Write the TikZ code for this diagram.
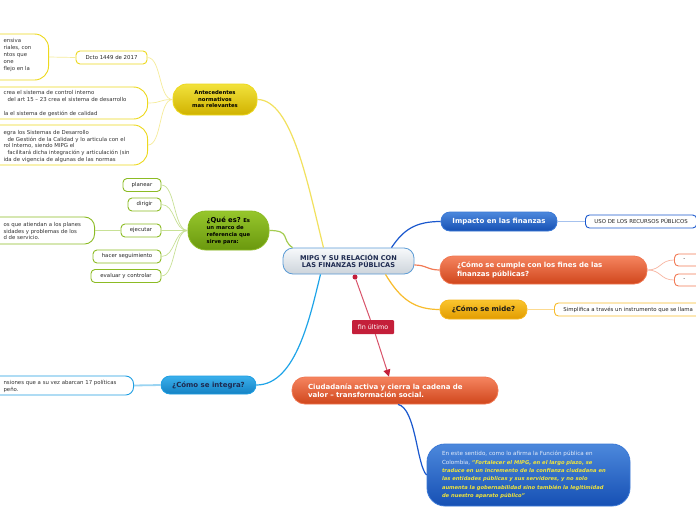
\documentclass[tikz,border=0pt]{standalone}
\usepackage{fontspec}
\setmainfont{DejaVu Sans}
\usepackage{xcolor}
\usetikzlibrary{positioning,arrows.meta}

\definecolor{centreTop}{HTML}{F7F9FB}
\definecolor{centreBot}{HTML}{CDD4DB}
\definecolor{centreEdge}{HTML}{5B9BD5}
\definecolor{centreText}{HTML}{1E2A50}
\definecolor{yelTop}{HTML}{F2E23C}
\definecolor{yelBot}{HTML}{D0B200}
\definecolor{yelEdge}{HTML}{EDD91E}
\definecolor{yelLine}{HTML}{F2E15E}
\definecolor{yelTwig}{HTML}{F6EC9A}
\definecolor{grnTop}{HTML}{96C62C}
\definecolor{grnBot}{HTML}{6A980E}
\definecolor{grnEdge}{HTML}{8CBB24}
\definecolor{grnLine}{HTML}{A4CC50}
\definecolor{grnTwig}{HTML}{C8E196}
\definecolor{skyTop}{HTML}{3AB0EC}
\definecolor{skyBot}{HTML}{1582C4}
\definecolor{skyEdge}{HTML}{1E9EE2}
\definecolor{skyLine}{HTML}{1EA4E8}
\definecolor{skyTwig}{HTML}{9AD4F2}
\definecolor{bluTop}{HTML}{4C88DC}
\definecolor{bluBot}{HTML}{1650B4}
\definecolor{bluEdge}{HTML}{3A78D6}
\definecolor{bluLine}{HTML}{1A58CE}
\definecolor{bluTwig}{HTML}{A6C2EE}
\definecolor{orgTop}{HTML}{F5845F}
\definecolor{orgBot}{HTML}{D0461C}
\definecolor{orgEdge}{HTML}{F07650}
\definecolor{orgLine}{HTML}{F27A55}
\definecolor{orgTwig}{HTML}{F8B6A2}
\definecolor{gldTop}{HTML}{FAC52E}
\definecolor{gldBot}{HTML}{E29C00}
\definecolor{gldEdge}{HTML}{F6B820}
\definecolor{gldLine}{HTML}{F8BC2C}
\definecolor{gldTwig}{HTML}{FCDA90}
\definecolor{finRed}{HTML}{C41F3A}
\definecolor{finLine}{HTML}{D9536A}
\definecolor{quoteYel}{HTML}{F2E53A}
\definecolor{paleText}{HTML}{E4ECFA}

\newcommand\mipgquote[1]{{\color{quoteYel}\fontsize{5.2}{8.3}\selectfont\bfseries\itshape #1}}

\tikzset{
  smalltxt/.style={font=\fontsize{5.4}{6.8}\selectfont},
  topic/.style={draw=#1, line width=0.8pt, inner sep=0pt, align=center,
    font=\fontsize{7}{8.2}\selectfont\bfseries},
  leafbox/.style={draw=#1, line width=0.9pt, fill=white, rounded corners=4pt,
    inner sep=0pt, minimum height=13pt, smalltxt, text=black!85},
  twig/.style={draw=#1, line width=0.7pt},
  branch/.style={draw=#1, line width=1.2pt},
}

\begin{document}
\begin{tikzpicture}[x=1pt,y=-1pt]
  \useasboundingbox[fill=white] (0,0) rectangle (696,520);

  % Central topic
  \node[topic=centreEdge, top color=centreTop, bottom color=centreBot,
    rounded corners=10pt, minimum width=131, minimum height=26, text=centreText,
    font=\fontsize{6.6}{7.8}\selectfont\bfseries] (mipg) at (348.5,261)
    {MIPG Y SU RELACIÓN CON\\LAS FINANZAS PÚBLICAS};

  % Antecedentes normativos
  \node[topic=yelEdge, top color=yelTop, bottom color=yelBot, rounded corners=14pt,
    minimum width=84, minimum height=31, text=black,
    font=\fontsize{5.3}{6.5}\selectfont\bfseries] (ante) at (215,99.5)
    {Antecedentes\\normativos\\mas relevantes};
  \draw[branch=yelLine] (ante.east) .. controls +(35,0) and +(-15,-60) .. ([xshift=-25pt]mipg.north);

  \node[leafbox=yelEdge] (dcto) at (111.5,57.5) [minimum width=71] {Dcto 1449 de 2017};
  \node[leafbox=yelEdge, anchor=east, minimum width=150, minimum height=46, rounded corners=14pt] (normA) at (49,57) {};
  \node[smalltxt, align=left, anchor=west, text=black!80] (normAtxt) at (0,55)
    {ensiva\\riales, con\\ntos que\\one\\flejo en la};
  \node[leafbox=yelEdge, anchor=east, minimum width=200, minimum height=32, rounded corners=14pt] (normB) at (148,103) {};
  \node[smalltxt, align=left, anchor=west, text=black!80] (normBtxt) at (0,103.5)
    {crea el sistema de control interno\\\hspace*{4pt}del art 15 – 23 crea el sistema de desarrollo\\[6.8pt]la el sistema de gestión de calidad};
  \node[leafbox=yelEdge, anchor=east, minimum width=200, minimum height=40, rounded corners=14pt] (normC) at (148,145) {};
  \node[smalltxt, align=left, anchor=west, text=black!80] (normCtxt) at (0,146.5)
    {egra los Sistemas de Desarrollo\\\hspace*{4pt}de Gestión de la Calidad y lo articula con el\\rol Interno, siendo MIPG el\\\hspace*{4pt}facilitará dicha integración y articulación (sin\\ida de vigencia de algunas de las normas};
  \foreach \leaf in {dcto,normB,normC}
    \draw[twig=yelTwig] (ante.west) .. controls +(-14,0) and +(14,0) .. (\leaf.east);
  \draw[twig=yelTwig] (dcto.west) -- (normA.east);

  % Que es
  \node[topic=grnEdge, top color=grnTop, bottom color=grnBot, rounded corners=18pt,
    minimum width=81, minimum height=39, align=left, text=black,
    font=\fontsize{5.3}{7}\selectfont\bfseries] (qe) at (228.5,230.5)
    {{\fontsize{6.8}{7}\selectfont ¿Qué es?} Es\\un marco de\\referencia que\\sirve para:};
  \draw[branch=grnLine] (qe.east) .. controls +(22,0) and +(-12,-8) .. ([xshift=10pt]mipg.north west);

  \foreach \name/\txt/\x/\y/\w in {plan/planear/142/185/38, dirig/dirigir/144.5/204.5/33,
      ejec/ejecutar/141/230.5/40, segui/hacer seguimiento/127/256.5/68,
      evalu/evaluar y controlar/126/276/70} {
    \node[leafbox=grnEdge, minimum width=\w] (\name) at (\x,\y) {\txt};
    \draw[twig=grnTwig] (qe.west) .. controls +(-14,0) and +(14,0) .. (\name.east);
  }
  \node[leafbox=grnEdge, anchor=east, minimum width=150, minimum height=27, rounded corners=10pt] (ejecB) at (95,230.5) {};
  \node[smalltxt, align=left, anchor=west, text=black!80] (ejecBtxt) at (0,231)
    {os que atiendan a los planes\\sidades y problemas de los\\d de servicio.};
  \draw[twig=grnTwig, line width=1.4pt] (ejec.west) -- (ejecB.east);

  % Como se integra
  \node[topic=skyEdge, top color=skyTop, bottom color=skyBot, rounded corners=9pt,
    minimum width=95, minimum height=18, text=centreText] (integ) at (208.5,385) {¿Cómo se integra?};
  \draw[branch=skyLine] ([xshift=-28pt]mipg.south) .. controls +(-10,40) and +(40,0) .. (integ.east);
  \node[leafbox=skyEdge, anchor=east, minimum width=200, minimum height=19, rounded corners=8pt] (integB) at (134,385.5) {};
  \node[smalltxt, align=left, anchor=west, text=black!80] (integBtxt) at (0,386)
    {nsiones que a su vez abarcan 17 políticas\\peño.};
  \draw[twig=skyTwig, line width=1.8pt] (integ.west) -- (integB.east);

  % Impacto en las finanzas
  \node[topic=bluEdge, top color=bluTop, bottom color=bluBot, rounded corners=9pt,
    minimum width=116, minimum height=19, text=white] (imp) at (499,221.5) {Impacto en las finanzas};
  \draw[branch=bluLine] ([xshift=43pt]mipg.north) .. controls +(12,-18) and +(-25,0) .. (imp.west);
  \node[leafbox=bluLine, anchor=west, inner xsep=9pt] (uso) at (585,221.5) {USO DE LOS RECURSOS PÚBLICOS};
  \draw[twig=bluTwig, line width=1.8pt] (imp.east) -- (uso.west);

  % Como se cumple
  \node[topic=orgEdge, top color=orgTop, bottom color=orgBot, rounded corners=13pt,
    minimum width=207, minimum height=28, text width=173, align=left, text=white] (cumple) at (543.5,270)
    {¿Cómo se cumple con los fines de las\\finanzas públicas?};
  \draw[branch=orgLine] ([yshift=-4pt]mipg.east) .. controls +(12,0) and +(-12,0) .. (cumple.west);
  \foreach \name/\y in {dashA/260, dashB/280} {
    \node[leafbox=orgLine, anchor=west, text width=25, align=left, inner xsep=9pt, minimum height=12] (\name) at (674,\y) {-};
    \draw[twig=orgTwig] (cumple.east) .. controls +(14,0) and +(-14,0) .. (\name.west);
  }

  % Como se mide
  \node[topic=gldEdge, top color=gldTop, bottom color=gldBot, rounded corners=9pt,
    minimum width=87, minimum height=19, text=black!90] (mide) at (483.5,309.5) {¿Cómo se mide?};
  \draw[branch=gldLine] ([xshift=37pt]mipg.south) .. controls +(15,25) and +(-25,0) .. (mide.west);
  \node[leafbox=gldLine, anchor=west, inner xsep=9pt] (simp) at (554,309.5) {Simplifica a través un instrumento que se llama};
  \draw[twig=gldTwig, line width=1.8pt] (mide.east) -- (simp.west);

  % Fin ultimo
  \node[circle, fill=finRed, inner sep=0pt, minimum size=5pt] (dot) at (355,277) {};
  \node[fill=finRed, text=white, rounded corners=1pt, minimum width=42, minimum height=14,
    inner sep=0pt, font=\fontsize{6.4}{7}\selectfont] (fin) at (373,327) {fin último};
  \node[topic=orgEdge, top color=orgTop, bottom color=orgBot, rounded corners=13pt,
    minimum width=206, minimum height=27, text width=174, align=left, text=white] (ciu) at (395,390.5)
    {Ciudadanía activa y cierra la cadena de\\valor – transformación social.};
  \draw[finLine, line width=1pt] (dot) -- (fin);
  \draw[finLine, line width=1pt, -{Triangle[length=7pt,width=7pt,color=finRed]}] (fin) -- ([xshift=-6pt]ciu.north);

  % Cita final
  \node[topic=bluEdge, top color=bluTop, bottom color=bluBot, rounded corners=18pt,
    minimum width=203, minimum height=62, text width=173, align=left, text=paleText,
    font=\fontsize{5.6}{8.3}\selectfont] (cita) at (528.5,475)
    {En este sentido, como lo afirma la Función pública en\\
     Colombia, \mipgquote{"Fortalecer el MIPG, en el largo plazo, se}\\
     \mipgquote{traduce en un incremento de la confianza ciudadana en}\\
     \mipgquote{las entidades públicas y sus servidores, y no solo}\\
     \mipgquote{aumenta la gobernabilidad sino también la legitimidad}\\
     \mipgquote{de nuestro aparato público"}};
  \draw[branch=bluLine] ([xshift=3pt]ciu.south) .. controls +(18,4) and +(-10,-10) .. (cita.west);
\end{tikzpicture}
\end{document}
